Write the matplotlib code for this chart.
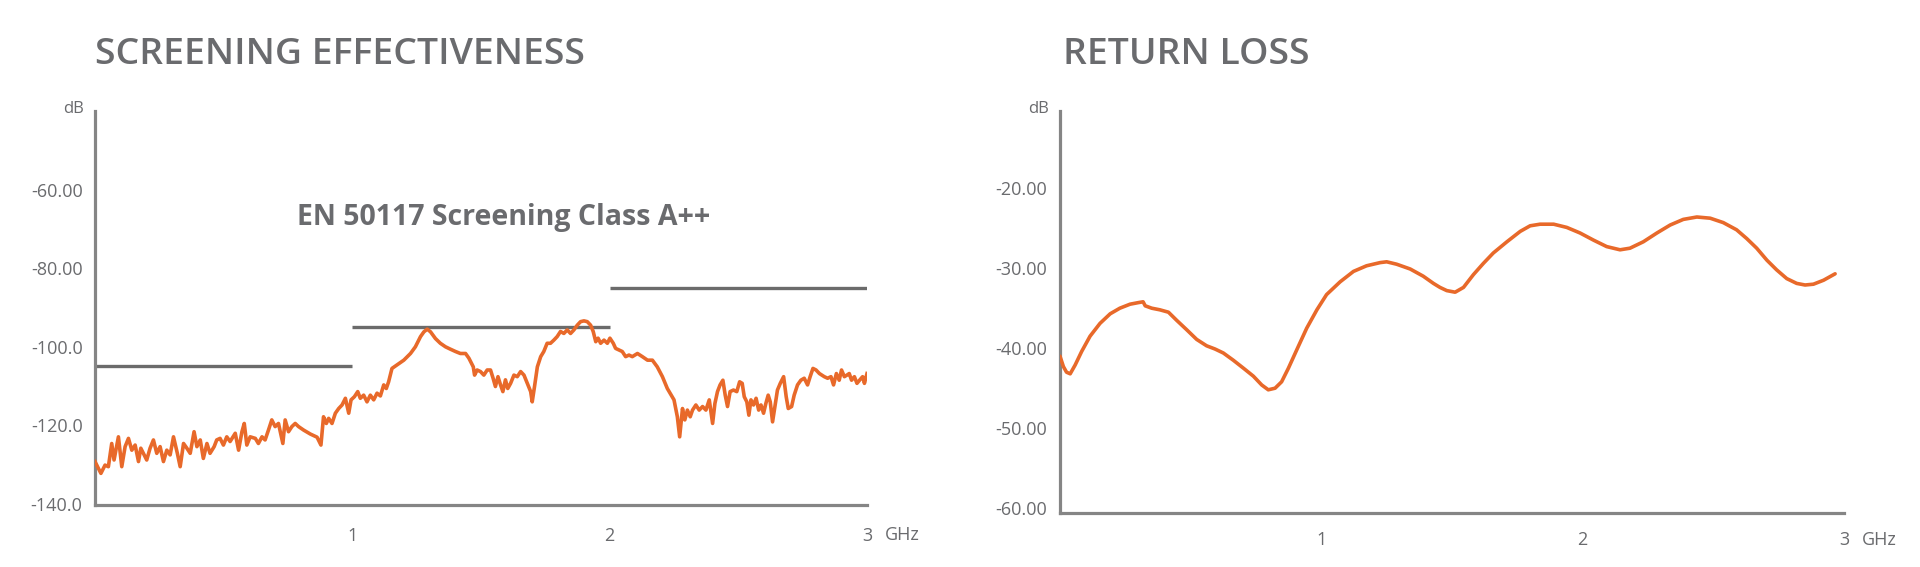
import matplotlib
matplotlib.use('Agg')
import matplotlib.pyplot as plt
from matplotlib import font_manager

# ---------------- data ----------------
# Screening effectiveness (GHz, dB)
se_freq = [0.000, 0.023, 0.039, 0.052, 0.065, 0.074, 0.091, 0.104, 0.117, 0.130,
           0.143, 0.156, 0.169, 0.178, 0.188, 0.201, 0.214, 0.227, 0.240, 0.253,
           0.266, 0.279, 0.292, 0.305, 0.320, 0.331, 0.344, 0.357, 0.370, 0.385,
           0.396, 0.409, 0.421, 0.435, 0.447, 0.463, 0.473, 0.486, 0.499, 0.512,
           0.525, 0.545, 0.558, 0.571, 0.580, 0.590, 0.603, 0.623, 0.635, 0.649,
           0.661, 0.674, 0.687, 0.700, 0.713,
           0.730, 0.739, 0.752, 0.765, 0.778, 0.791, 0.811, 0.837, 0.863, 0.878,
           0.888, 0.899, 0.908, 0.921, 0.934, 0.947, 0.960, 0.973, 0.986, 0.995,
           1.008, 1.021, 1.031, 1.044, 1.057, 1.070, 1.083, 1.096, 1.109, 1.122,
           1.132, 1.141, 1.154, 1.174, 1.200, 1.226, 1.245, 1.265, 1.278, 1.291,
           1.304, 1.323, 1.342, 1.362, 1.381, 1.401, 1.420, 1.440, 1.453,
           1.470, 1.475, 1.485, 1.498, 1.511, 1.524, 1.537, 1.547, 1.556, 1.566,
           1.576, 1.585, 1.595, 1.604, 1.615, 1.628, 1.641, 1.654, 1.667, 1.680,
           1.693, 1.699, 1.708, 1.719, 1.732, 1.744, 1.757, 1.770, 1.783, 1.796,
           1.809, 1.822, 1.835, 1.848, 1.861, 1.874, 1.887, 1.900, 1.913, 1.926,
           1.936, 1.946, 1.955, 1.965, 1.978, 1.991, 2.001, 2.014, 2.023, 2.036,
           2.049, 2.062, 2.075, 2.088, 2.108, 2.127, 2.147, 2.166, 2.185, 2.205,
           2.224,
           2.250, 2.263, 2.272, 2.283, 2.292, 2.302, 2.313, 2.322, 2.335, 2.348,
           2.361, 2.374, 2.387, 2.400, 2.409, 2.419, 2.429, 2.440, 2.449, 2.458,
           2.468, 2.481, 2.494, 2.505, 2.515, 2.523, 2.533, 2.541, 2.549, 2.559,
           2.569, 2.579, 2.588, 2.598, 2.607, 2.616, 2.624, 2.633, 2.642, 2.652,
           2.663, 2.676, 2.686, 2.694, 2.707, 2.717, 2.730, 2.743, 2.756, 2.769,
           2.779, 2.790, 2.802, 2.815, 2.834, 2.847, 2.860, 2.870, 2.881, 2.892,
           2.901, 2.912, 2.922, 2.931, 2.940, 2.951, 2.961, 2.971, 2.983, 2.990,
           3.000]
se_db = [-129.2, -132.2, -130.1, -130.5, -124.6, -128.8, -122.9, -130.5, -125.4, -123.3,
         -126.3, -125.0, -129.2, -125.8, -127.1, -128.8, -125.8, -123.7, -127.1, -125.4,
         -129.2, -126.3, -127.5, -122.9, -127.1, -130.5, -124.6, -125.8, -127.1, -121.6,
         -125.4, -123.7, -128.4, -124.6, -127.1, -125.4, -123.7, -123.3, -125.0, -122.9,
         -124.1, -122.0, -126.3, -121.6, -119.5, -125.0, -122.9, -123.3, -124.6, -122.9,
         -123.7, -121.2, -118.6, -120.3, -119.5,
         -124.6, -118.6, -121.6, -120.3, -119.5, -120.3, -121.2, -122.2, -123.0, -125.0,
         -117.8, -119.5, -118.2, -119.5, -116.9, -115.7, -114.8, -113.1, -116.9, -113.5,
         -112.7, -111.4, -113.1, -112.3, -114.0, -112.3, -113.5, -111.8, -112.5, -109.7,
         -110.6, -108.9, -105.5, -104.6, -103.4, -101.7, -100.0, -97.4, -96.2, -95.5,
         -96.2, -97.9, -99.1, -100.0, -100.6, -101.2, -101.7, -101.7, -102.9,
         -105.1, -107.2, -105.9, -106.3, -107.2, -105.9, -105.9, -108.0, -110.1, -107.6,
         -109.7, -111.4, -108.4, -110.6, -109.3, -107.2, -107.6, -106.3, -107.2, -109.3,
         -111.4, -114.0, -110.1, -105.1, -102.5, -101.2, -99.1, -99.1, -98.3, -97.4,
         -96.1, -96.6, -95.7, -96.6, -95.7, -94.5, -93.6, -93.4, -93.6, -94.5,
         -96.1, -98.7, -97.8, -99.1, -98.3, -99.1, -97.8, -99.1, -100.4, -100.8,
         -101.2, -102.5, -102.1, -102.5, -101.7, -102.5, -103.4, -103.4, -105.1, -107.6,
         -110.6,
         -113.5, -117.8, -122.9, -115.7, -118.6, -116.1, -117.8, -116.1, -114.8, -116.1,
         -115.2, -116.1, -113.5, -119.5, -114.4, -111.4, -109.7, -108.5, -112.3, -115.2,
         -111.4, -111.0, -111.4, -108.9, -109.3, -112.7, -114.0, -117.4, -113.5, -114.8,
         -113.1, -116.1, -114.8, -116.9, -114.4, -112.3, -114.0, -119.1, -115.2, -111.0,
         -109.3, -107.6, -112.7, -115.7, -115.2, -112.3, -109.7, -108.5, -108.0, -109.7,
         -107.6, -105.5, -105.9, -106.8, -107.6, -108.0, -107.6, -109.7, -106.8, -108.5,
         -105.9, -107.6, -107.2, -106.8, -108.5, -107.6, -109.3, -108.5, -107.6, -109.3,
         -106.8]

# EN 50117 class A++ limits
limit_start = [0.0, 1.0, 2.0]
limit_end = [1.0, 2.0, 3.0]
limit_db = [-105.0, -95.0, -85.0]

# Return loss (GHz, dB)
rl_freq = [0.000, 0.013, 0.025, 0.039, 0.058, 0.083, 0.115, 0.153, 0.192, 0.229,
           0.268, 0.300, 0.318, 0.326, 0.351, 0.382, 0.415, 0.446, 0.485, 0.523,
           0.561, 0.593, 0.625, 0.663, 0.702, 0.740, 0.772, 0.797, 0.823, 0.848,
           0.874, 0.906, 0.944, 0.983, 1.020, 1.072, 1.123, 1.173, 1.225, 1.250,
           1.288, 1.340, 1.390, 1.429, 1.454,
           1.480, 1.512, 1.544, 1.582, 1.620, 1.658, 1.710, 1.761, 1.799, 1.837,
           1.889, 1.939, 1.990, 2.042, 2.092, 2.143, 2.181, 2.232, 2.284, 2.335,
           2.385, 2.437, 2.488, 2.538, 2.589, 2.628, 2.666, 2.705, 2.742, 2.781,
           2.819, 2.851, 2.883, 2.922, 2.966]
rl_db = [-41.0, -42.3, -43.0, -43.2, -42.1, -40.4, -38.5, -36.9, -35.7, -35.0,
         -34.5, -34.3, -34.2, -34.7, -35.0, -35.2, -35.5, -36.5, -37.7, -38.9,
         -39.7, -40.1, -40.6, -41.5, -42.5, -43.5, -44.6, -45.2, -45.0, -44.2,
         -42.5, -40.2, -37.5, -35.2, -33.3, -31.7, -30.4, -29.7, -29.3, -29.2,
         -29.5, -30.1, -31.0, -31.9, -32.4,
         -32.8, -33.0, -32.4, -30.8, -29.4, -28.1, -26.7, -25.4, -24.7, -24.5,
         -24.5, -24.9, -25.6, -26.5, -27.3, -27.7, -27.5, -26.7, -25.6, -24.6,
         -23.9, -23.6, -23.75, -24.3, -25.2, -26.3, -27.5, -29.0, -30.2, -31.3,
         -31.9, -32.1, -32.0, -31.5, -30.7]

se_yticks = [-60, -80, -100, -120, -140]
se_yticklabels = ['-60.00', '-80.00', '-100.0', '-120.0', '-140.0']
rl_yticks = [-20, -30, -40, -50, -60]
rl_yticklabels = ['-20.00', '-30.00', '-40.00', '-50.00', '-60.00']
x_ticks = [1, 2, 3]
x_ticklabels = ['1', '2', '3']

# ---------------- style ----------------
W, H, DPI = 1920, 567, 100
available = {f.name for f in font_manager.fontManager.ttflist}
FONT = 'Open Sans' if 'Open Sans' in available else 'DejaVu Sans'
plt.rcParams['font.family'] = [FONT, 'DejaVu Sans']

TXT = '#6a6b6e'
AXC = '#858585'
LIMC = '#6b6b6b'
ORANGE = '#e8692a'

fig = plt.figure(figsize=(W / DPI, H / DPI), dpi=DPI)
fig.patch.set_facecolor('white')


def px_axes(x0, x1, ytop, ybot):
    return fig.add_axes([x0 / W, 1 - ybot / H, (x1 - x0) / W, (ybot - ytop) / H])


def style(ax, xpad, ypad):
    for s in ('top', 'right'):
        ax.spines[s].set_visible(False)
    for s in ('left', 'bottom'):
        ax.spines[s].set_color(AXC)
        ax.spines[s].set_linewidth(2.3)
    ax.tick_params(axis='both', length=0, labelcolor=TXT, labelsize=13)
    ax.tick_params(axis='x', pad=xpad)
    ax.tick_params(axis='y', pad=ypad)
    ax.set_xlim(0, 3)
    ax.set_xticks(x_ticks)
    ax.set_xticklabels(x_ticklabels)
    ax.set_facecolor('none')


def ftext(x, y, s, **kw):
    return fig.text(x / W, 1 - y / H, s, **kw)


# Screening effectiveness
ax1 = px_axes(95, 867, 111, 505)
style(ax1, 16, 9)
ax1.set_ylim(-140.25, -40.0)
ax1.set_yticks(se_yticks)
ax1.set_yticklabels(se_yticklabels)
ax1.hlines(limit_db, limit_start, limit_end, colors=LIMC, linewidth=2.4, zorder=2)
ax1.plot(se_freq, se_db, color=ORANGE, linewidth=2.6, solid_joinstyle='round', zorder=3)

# Return loss
ax2 = px_axes(1060, 1844, 111, 513)
style(ax2, 13, 9)
ax2.set_ylim(-60.6, -10.35)
ax2.set_yticks(rl_yticks)
ax2.set_yticklabels(rl_yticklabels)
ax2.plot(rl_freq, rl_db, color=ORANGE, linewidth=2.6, solid_joinstyle='round',
         solid_capstyle='round', zorder=3)

# Titles
t1 = ftext(95, 64, 'SCREENING EFFECTIVENESS', color=TXT, fontsize=24,
           fontweight='semibold', va='baseline', ha='left')
t2 = ftext(1063, 64, 'RETURN LOSS', color=TXT, fontsize=24,
           fontweight='semibold', va='baseline', ha='left')
sub = ftext(297, 225, 'EN 50117 Screening Class A++', color=TXT, fontsize=18,
            fontweight='bold', va='baseline', ha='left')

fig.canvas.draw()
r = fig.canvas.get_renderer()
w1 = t1.get_window_extent(r).width
fs = 24 * 490.0 / w1
t1.set_fontsize(fs)
t2.set_fontsize(fs)
ws = sub.get_window_extent(r).width
sub.set_fontsize(18 * 414.0 / ws)

# Units
ftext(84, 113, 'dB', color=TXT, fontsize=12, va='baseline', ha='right')
ftext(1049, 113, 'dB', color=TXT, fontsize=12, va='baseline', ha='right')
ftext(885, 535, 'GHz', color=TXT, fontsize=13, va='center', ha='left')
ftext(1862, 540, 'GHz', color=TXT, fontsize=13, va='center', ha='left')

fig.savefig('out.png', dpi=DPI, facecolor='white')
